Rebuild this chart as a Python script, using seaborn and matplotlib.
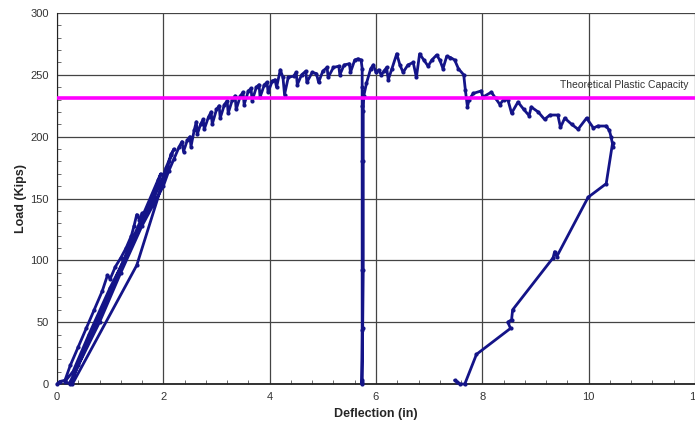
import matplotlib
matplotlib.use('agg')
import matplotlib.pyplot as plt
from matplotlib.ticker import MultipleLocator
import seaborn as sns
import pandas as pd

# elastic cycles (load / unload / reload)
cycle_x = [0.0, 0.05, 0.15, 0.25, 0.4, 0.55, 0.7, 0.85, 0.95, 1.0, 1.1, 1.2, 1.3, 1.4, 1.45, 1.5, 1.55, 1.6, 1.7, 1.75, 1.8, 1.85, 1.9, 1.95,
           1.9, 0.25, 0.15,
           0.3, 0.6, 1.0, 1.4, 1.8, 2.0, 2.05, 2.1, 2.15, 2.2,
           2.15, 1.5, 0.29, 0.25,
           0.4, 0.8, 1.2, 1.6, 2.0, 2.1, 2.2, 2.3]
cycle_y = [0, 2, 3, 15, 30, 45, 60, 75, 88, 85, 95, 102, 110, 120, 128, 137, 133, 138, 140, 148, 152, 158, 163, 170,
           165, 0, 2,
           10, 40, 78, 112, 148, 168, 175, 180, 186, 190,
           185, 96, 0, 2,
           15, 50, 90, 128, 160, 172, 182, 192]

# yielding plateau up to the first large unload
plateau_x = [2.35, 2.38, 2.45, 2.5, 2.52, 2.58, 2.62, 2.64, 2.7, 2.75, 2.77, 2.85, 2.9, 2.92, 3.0, 3.05, 3.07,
             3.15, 3.2, 3.22, 3.3, 3.35, 3.37, 3.45, 3.5, 3.52, 3.6, 3.65, 3.67, 3.75, 3.8, 3.82, 3.9, 3.95, 3.97,
             4.05, 4.1, 4.13, 4.2, 4.25, 4.28, 4.35, 4.45, 4.5, 4.52, 4.6, 4.68, 4.7, 4.8, 4.88, 4.92, 5.0, 5.08,
             5.1, 5.2, 5.3, 5.32, 5.4, 5.5, 5.52, 5.6, 5.66, 5.72]
plateau_y = [196, 188, 197, 200, 192, 205, 212, 202, 210, 214, 206, 216, 220, 210, 222, 225, 215,
             226, 229, 219, 230, 233, 222, 233, 236, 226, 237, 239, 229, 240, 242, 232, 242, 244, 236,
             245, 246, 240, 254, 248, 234, 248, 249, 252, 242, 250, 253, 244, 252, 251, 244, 253, 256,
             248, 256, 257, 250, 258, 259, 252, 262, 263, 262]

# unload to zero at ~5.75 in and reload
unload1_x = [5.74, 5.74, 5.74, 5.74, 5.74, 5.74, 5.73, 5.73, 5.74, 5.75, 5.76, 5.76, 5.76, 5.77]
unload1_y = [255, 240, 225, 180, 92, 44, 3, 0, 2, 45, 92, 180, 221, 233]

# second plateau and softening branch
soft_x = [5.82, 5.9, 5.95, 6.0, 6.05, 6.1, 6.15, 6.2, 6.23, 6.3, 6.39, 6.45, 6.51, 6.6, 6.7, 6.76, 6.82, 6.9,
          6.98, 7.05, 7.14, 7.2, 7.26, 7.33, 7.4, 7.48, 7.55, 7.65, 7.68, 7.72, 7.75, 7.83, 7.98, 8.01, 8.17,
          8.25, 8.33, 8.4, 8.48, 8.55, 8.67, 8.78, 8.88, 8.92, 9.05, 9.17, 9.27, 9.42, 9.47, 9.55, 9.68, 9.8,
          9.96, 10.09, 10.17, 10.33, 10.39, 10.42, 10.46]
soft_y = [243, 255, 258, 252, 254, 250, 253, 256, 246, 255, 267, 258, 252, 258, 260, 248, 267, 262,
          257, 262, 266, 262, 255, 265, 264, 262, 255, 250, 238, 224, 230, 235, 237, 232, 236,
          231, 226, 230, 230, 219, 228, 222, 217, 224, 220, 214, 217.5, 217.5, 207.5, 215, 210, 206,
          215, 207, 208.6, 208.6, 205, 200, 192]

# final unload
unload2_x = [10.45, 10.33, 9.99, 9.4, 9.36, 9.33, 8.57, 8.55, 8.48, 8.53, 7.89, 7.67, 7.58, 7.52, 7.48]
unload2_y = [195, 162, 151, 103, 107, 102, 60, 52, 50, 45, 24, 0, 0, 2, 3]

plastic_capacity = 231

df = pd.DataFrame({
    'Deflection': cycle_x + plateau_x + unload1_x + soft_x + unload2_x,
    'Load': cycle_y + plateau_y + unload1_y + soft_y + unload2_y,
})

sns.set_style('white')
plt.rcParams['font.family'] = ['Liberation Sans', 'DejaVu Sans']

fig = plt.figure(figsize=(6.95, 4.28), dpi=100)
ax = fig.add_axes([0.082, 0.1028, 0.918, 0.8668])

ax.grid(True, color='#444444', linewidth=0.9)
ax.set_axisbelow(True)

sns.lineplot(data=df, x='Deflection', y='Load', sort=False, estimator=None, ax=ax,
             color='#141488', linewidth=2, marker='o', markersize=3,
             markeredgewidth=0, clip_on=False, zorder=3)

ax.axhline(plastic_capacity, color='#ff00ff', linewidth=2.6, zorder=4)
ax.text(11.87, plastic_capacity + 6.5, 'Theoretical Plastic Capacity', ha='right', va='bottom',
        fontsize=7.5, color='#333333')

ax.set_xlim(0, 12)
ax.set_ylim(0, 300)
ax.xaxis.set_major_locator(MultipleLocator(2))
ax.xaxis.set_minor_locator(MultipleLocator(0.4))
ax.yaxis.set_major_locator(MultipleLocator(50))
ax.yaxis.set_minor_locator(MultipleLocator(10))
ax.tick_params(which='major', length=0, labelsize=8, labelcolor='#333333', pad=6)
ax.tick_params(which='minor', direction='in', length=3, width=0.6, color='#555555')
ax.tick_params(axis='x', which='minor', bottom=True)
ax.tick_params(axis='y', which='minor', left=True)

for side in ['top', 'right']:
    ax.spines[side].set_visible(False)
ax.spines['left'].set_color('#222222')
ax.spines['bottom'].set_color('#222222')
ax.spines['bottom'].set_linewidth(1.3)

ax.set_xlabel('Deflection (in)', fontsize=9, fontweight='bold', labelpad=4)
ax.set_ylabel('Load (Kips)', fontsize=9, fontweight='bold', labelpad=2)

fig.savefig('out.png', dpi=100)
